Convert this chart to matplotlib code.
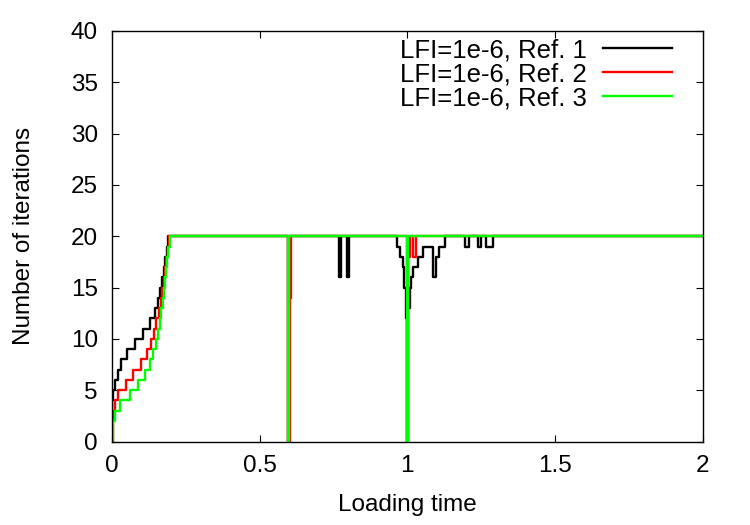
import matplotlib
matplotlib.use('Agg')
import matplotlib.pyplot as plt

plt.rcParams['font.family'] = ['Liberation Sans', 'DejaVu Sans']

# change points (time, iterations), held until next point
t_ref1 = [0, 0.002, 0.005, 0.012, 0.02, 0.032, 0.05, 0.078, 0.105, 0.13, 0.145,
          0.156, 0.164, 0.17, 0.176, 0.181, 0.186, 0.191,
          0.598, 0.601,
          0.768, 0.775, 0.797, 0.804,
          0.965, 0.975, 0.985, 0.99, 0.995, 0.998, 1.003, 1.008, 1.013, 1.021,
          1.035, 1.052, 1.086, 1.097, 1.109, 1.129,
          1.195, 1.21, 1.24, 1.25, 1.268, 1.29, 2.0]
n_ref1 = [0, 4, 5, 6, 7, 8, 9, 10, 11, 12, 13,
          14, 15, 16, 17, 18, 19, 20,
          0, 20,
          16, 20, 16, 20,
          19, 18, 17, 15, 12, 0, 13, 15, 16, 17,
          18, 19, 16, 18, 19, 20,
          19, 20, 19, 20, 19, 20, 20]

t_ref2 = [0, 0.003, 0.01, 0.021, 0.047, 0.072, 0.1, 0.12, 0.134, 0.143, 0.151,
          0.159, 0.166, 0.171, 0.176, 0.181, 0.185, 0.189, 0.193,
          0.598, 0.602, 0.607,
          0.998, 1.003, 1.01, 1.02, 1.028, 2.0]
n_ref2 = [0, 3, 4, 5, 6, 7, 8, 9, 10, 11, 12,
          13, 14, 15, 16, 17, 18, 19, 20,
          0, 14, 20,
          0, 18, 20, 18, 20, 20]

t_ref3 = [0, 0.003, 0.01, 0.027, 0.061, 0.089, 0.112, 0.129, 0.14, 0.149, 0.156,
          0.162, 0.167, 0.172, 0.176, 0.18, 0.184, 0.188, 0.192, 0.196,
          0.598, 0.601,
          0.998, 1.001, 2.0]
n_ref3 = [0, 2, 3, 4, 5, 6, 7, 8, 9, 10, 11,
          12, 13, 14, 15, 16, 17, 18, 19, 20,
          0, 20,
          0, 20, 20]

labels = ['LFI=1e-6, Ref. 1', 'LFI=1e-6, Ref. 2', 'LFI=1e-6, Ref. 3']
colors = ['#000000', '#ff0000', '#00ff00']

fs = 17.5

fig = plt.figure(figsize=(7.5, 5.25), dpi=100)
ax = fig.add_axes([0.149, 0.159, 0.788, 0.782])

for t, n, lab, c in zip([t_ref1, t_ref2, t_ref3], [n_ref1, n_ref2, n_ref3], labels, colors):
    ax.plot(t, n, drawstyle='steps-post', color=c, lw=1.7, label=lab)

ax.set_xlim(0, 2)
ax.set_ylim(0, 40)
ax.set_xticks([0, 0.5, 1, 1.5, 2])
ax.set_xticklabels(['0', '0.5', '1', '1.5', '2'])
ax.set_yticks(range(0, 41, 5))
ax.tick_params(direction='in', length=5, width=0.8, top=True, right=True,
               labelsize=fs, pad=10)
for s in ax.spines.values():
    s.set_linewidth(1.0)

ax.set_xlabel('Loading time', fontsize=fs, labelpad=12)
ax.set_ylabel('Number of iterations', fontsize=fs, labelpad=26)

leg = ax.legend(loc='upper right', bbox_to_anchor=(0.948, 0.982), frameon=False,
                markerfirst=False, fontsize=18.5, handlelength=2.69,
                handletextpad=0.62, labelspacing=0.0, borderpad=0, borderaxespad=0)

fig.savefig('out.png', dpi=100)
